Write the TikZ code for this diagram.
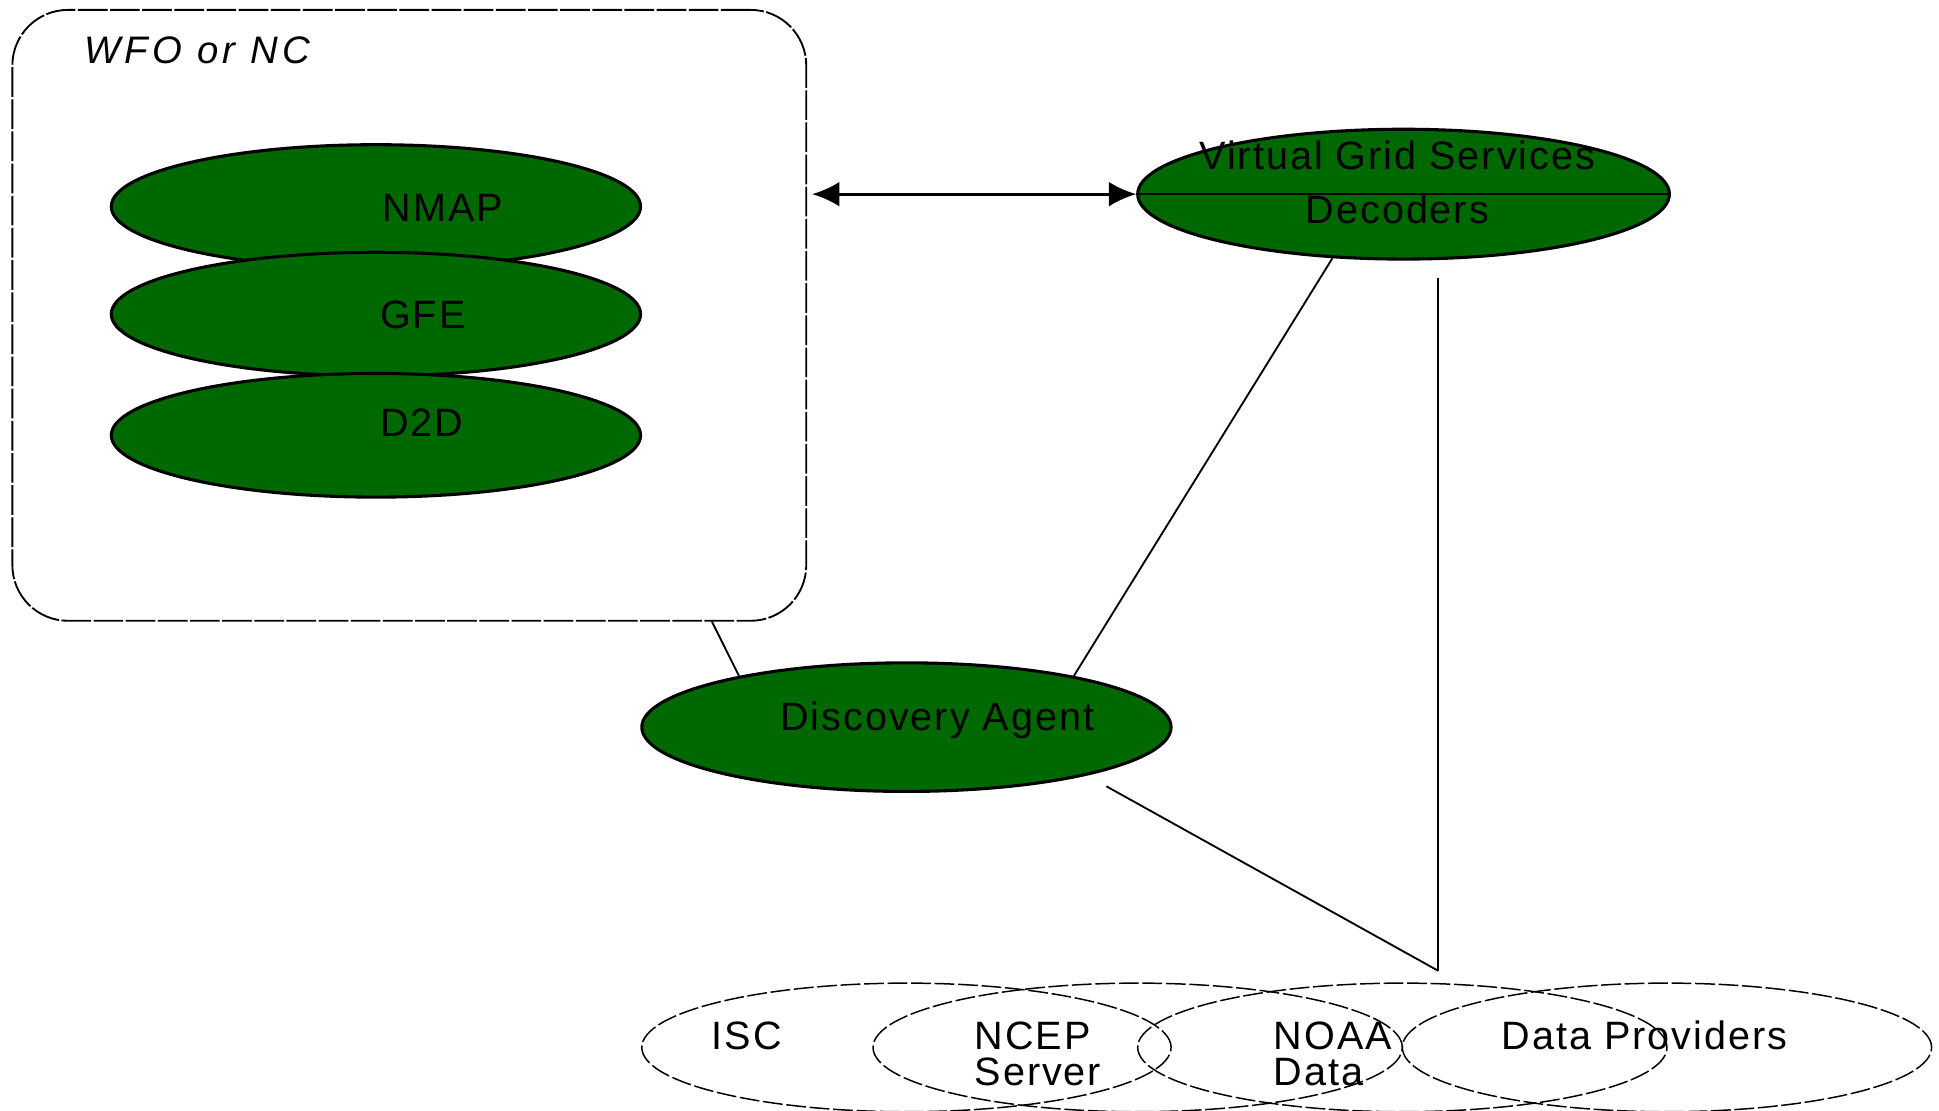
\documentclass[tikz,border=0pt]{standalone}
\usepackage{fontspec}
\setmainfont{Liberation Sans}
\usetikzlibrary{shapes.geometric,arrows.meta}

\definecolor{agentgreen}{RGB}{0,104,0}

\tikzstyle{tool} = [ellipse,draw=black,line width=2.5pt,fill=agentgreen,minimum width=428pt,minimum height=100pt,inner sep=0pt]
\tikzstyle{source} = [ellipse,draw=black,line width=1.2pt,dash pattern=on 16pt off 3pt,minimum width=428pt,minimum height=104pt,inner sep=0pt]
\tikzstyle{caption} = [font=\fontsize{32}{29}\selectfont\addfontfeature{LetterSpace=5},inner sep=0pt,anchor=base]
\tikzstyle{link} = [line width=1.5pt]

\begin{document}
\begin{tikzpicture}[x=1pt,y=-1pt]
	\useasboundingbox (0,0) rectangle (1568,898);
	% site box
	\node (wfo) [draw,line width=1.5pt,dash pattern=on 24pt off 2pt,rounded corners=45pt,minimum width=642pt,minimum height=494pt,inner sep=0pt] at (331,255) {};
	\node (wfotxt) [caption,anchor=base west,font=\fontsize{31}{29}\selectfont\itshape\addfontfeature{LetterSpace=11}] at (68,51) {WFO or NC};
	\node (nmap) [tool] at (304,167) {};
	\node (gfe) [tool] at (304,254) {};
	\node (d2d) [tool] at (304,352) {};
	\node (nmaptxt) [caption] at (358,179) {NMAP};
	\node (gfetxt) [caption] at (342,266) {GFE};
	\node (d2dtxt) [caption] at (341,353) {D2D};
	% grid services and agent
	\node (vgs) [tool,minimum width=430pt,minimum height=105pt] at (1135,157) {};
	\draw [line width=2pt] (vgs.west) -- (vgs.east);
	\node (vgstop) [caption] at (1130,137) {Virtual Grid Services};
	\node (vgsbot) [caption] at (1130,181) {Decoders};
	\node (da) [tool,minimum height=104pt] at (733,588) {};
	\node (datxt) [caption] at (758,591) {Discovery Agent};
	% data sources
	\node (isc) [source] at (733,847) {};
	\node (ncep) [source] at (920,847) {};
	\node (noaa) [source] at (1134,847) {};
	\node (prov) [source] at (1348,847) {};
	\node (isctxt) [caption] at (604,849) {ISC};
	\node (nceptxt) [caption,anchor=base west,align=left] at (788,878) {NCEP\\Server};
	\node (noaatxt) [caption,anchor=base west,align=left] at (1030,878) {NOAA\\Data};
	\node (provtxt) [caption] at (1330,849) {Data Providers};
	\coordinate (feed) at (1163,225);
	\coordinate (join) at (1163,785);
	\draw [{Latex[length=22pt,width=20pt]}-{Latex[length=22pt,width=20pt]},line width=2.2pt] ([xshift=4pt]wfo.east |- vgs.west) -- (vgs.west);
	\draw [link] ([xshift=-77pt]wfo.south east) -- (da.163);
	\draw [link] (vgs.222) -- (da.17);
	\draw [link,shorten <=18pt] (da.345) -- (join);
	\draw [link] (feed) -- (join);
\end{tikzpicture}
\end{document}
